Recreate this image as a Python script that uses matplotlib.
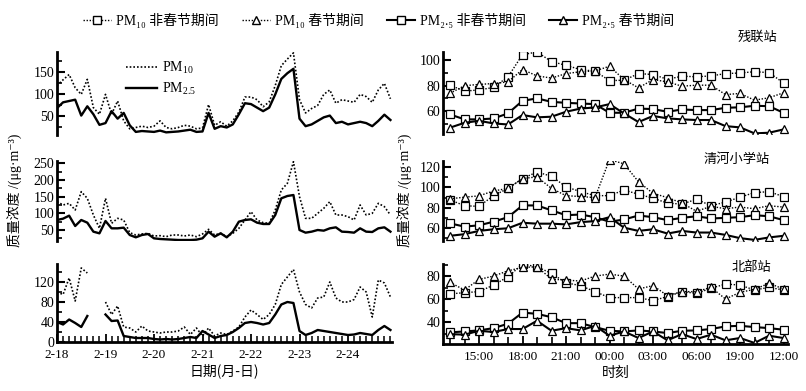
import numpy as np
import matplotlib
matplotlib.use("Agg")
import matplotlib.pyplot as plt
from matplotlib.lines import Line2D
from matplotlib.ticker import MultipleLocator, FixedLocator

FAM = ['Liberation Serif', 'DejaVu Serif', 'Noto Sans CJK SC']
plt.rcParams['font.family'] = FAM
plt.rcParams['mathtext.fontset'] = 'custom'
plt.rcParams['mathtext.rm'] = 'Liberation Serif'
plt.rcParams['mathtext.it'] = 'Liberation Serif:italic'
plt.rcParams['mathtext.default'] = 'rm'

nan = np.nan
# ---------------- left column: 3-hourly series, 2-18 00:00 .. 2-24 21:00 ----------------
hours = np.arange(56) * 3
day_labels = ["2-18", "2-19", "2-20", "2-21", "2-22", "2-23", "2-24"]

top_pm10 = [120, 133, 145, 115, 100, 134, 70, 55, 100, 55, 85, 40, 22, 25, 28, 25,
            28, 40, 25, 22, 25, 30, 28, 22, 24, 77, 30, 38, 28, 40, 60, 94,
            94, 88, 72, 83, 120, 165, 180, 194, 88, 58, 68, 75, 100, 110, 80, 88,
            85, 82, 100, 95, 82, 110, 125, 90]
top_pm25 = [69, 82, 85, 88, 52, 73, 55, 31, 35, 62, 45, 58, 30, 15, 17, 16,
            15, 18, 14, 15, 16, 18, 20, 15, 16, 58, 22, 28, 25, 32, 55, 80,
            78, 70, 62, 70, 100, 135, 148, 158, 45, 28, 32, 40, 48, 52, 35, 38,
            32, 35, 38, 35, 28, 40, 54, 42]

mid_pm10 = [135, 125, 130, 110, 165, 145, 95, 55, 145, 70, 85, 80, 42, 35, 38, 40,
            32, 33, 30, 35, 35, 32, 35, 30, 38, 52, 35, 40, 30, 40, 55, 80,
            105, 80, 72, 70, 110, 170, 190, 255, 150, 85, 85, 100, 115, 135, 95, 95,
            90, 80, 125, 95, 100, 130, 120, 95]
mid_pm25 = [80, 84, 93, 62, 80, 72, 45, 40, 77, 55, 55, 57, 35, 28, 35, 38,
            25, 23, 22, 21, 20, 20, 20, 21, 25, 45, 30, 40, 28, 45, 75, 80,
            82, 72, 68, 68, 95, 145, 152, 155, 50, 42, 45, 50, 48, 55, 58, 45,
            44, 42, 55, 45, 44, 55, 58, 45]

bot_pm10 = [100, 95, 128, 82, 148, 138, nan, nan, 80, 55, 72, 30, 28, 20, 32, 22,
            20, 18, 20, 20, 22, 30, 15, 28, 12, 28, 12, 18, 15, 22, 30, 50,
            64, 55, 45, 55, 75, 115, 130, 145, 100, 75, 68, 88, 90, 120, 88, 80,
            80, 85, 110, 100, 50, 124, 118, 90]
bot_pm25 = [40, 35, 45, 38, 30, 52, nan, nan, 55, 42, 43, 12, 10, 8, 8, 8,
            6, 5, 6, 5, 6, 8, 10, 8, 22, 15, 8, 12, 14, 20, 28, 38,
            40, 38, 35, 38, 55, 75, 80, 78, 22, 14, 18, 24, 22, 20, 18, 16,
            14, 15, 18, 16, 14, 24, 32, 24]

# ---------------- right column: hourly, 13:00 .. 12:00 next day ----------------
hour_idx = np.arange(24)
time_labels = ["15:00", "18:00", "21:00", "00:00", "03:00", "06:00", "19:00", "12:00"]

cl_pm10_non = [80.4, 75.7, 76.7, 78.6, 87, 104.4, 106.5, 99, 96, 92.7, 91.4, 84,
               84.3, 89.5, 88.8, 85, 87.5, 87, 87.7, 89.5, 90, 91, 90.3, 82.2]
cl_pm10_fes = [74, 80, 81, 81.7, 83, 92.7, 87.7, 86, 89.5, 91, 91.6, 95.3,
               84.8, 78.3, 84.8, 83, 79.6, 80.4, 80.4, 73, 73.9, 68.6, 70.5, 74.4]
cl_pm25_non = [57.4, 53.5, 53.5, 54.2, 58.2, 68.1, 70, 67.3, 66.5, 66, 65.5, 58.7,
               58.7, 62, 61.6, 59.5, 61.3, 60.8, 60.8, 62.6, 63, 64.2, 63.9, 58.7]
cl_pm25_fes = [47, 50.8, 52.4, 50.3, 49.5, 56.9, 55.1, 55.6, 59.5, 62, 62.9, 65.5,
               58.2, 51.4, 56.2, 54.3, 53.5, 53, 53, 48.2, 47.2, 42.5, 43, 45.6]

qh_pm10_non = [87.9, 82.1, 81.5, 92, 99.1, 108.8, 115.2, 111, 100.7, 95.9, 92, 92,
               97.5, 93.4, 89.5, 84.7, 83.7, 88.5, 82.1, 85.7, 90.5, 95, 95.9, 91.1]
qh_pm10_fes = [88.9, 90.5, 91.8, 96.6, 99.1, 108.8, 110.4, 99.1, 92, 91.1, 90.1, 127.4,
               123.2, 105.6, 94.3, 90.1, 84.7, 76.7, 81.5, 79.2, 80.8, 79.2, 82.1, 80.8]
qh_pm25_non = [64.8, 61.6, 62.9, 66.4, 70.9, 82.4, 82.4, 77.6, 72.8, 73.5, 70.9, 66.4,
               68.6, 72.5, 70.9, 68, 70.2, 71.8, 69.6, 70.2, 70.9, 72.8, 71.8, 68]
qh_pm25_fes = [52.6, 54.2, 57.4, 59, 60, 65.4, 64.5, 64.5, 63.8, 66, 67, 70.9,
               60.6, 57.4, 59, 54.8, 57.4, 55.8, 55.8, 53.5, 50.3, 48.6, 51, 52.6]

bb_pm10_non = [64.5, 65.6, 66.5, 72.2, 79.4, 90.4, 88.1, 82.3, 74.2, 71.7, 66.5, 61.3,
               61.3, 61.3, 58.7, 62.2, 66.5, 65, 69.4, 73.1, 72.2, 67.9, 70.2, 67.9]
bb_pm10_fes = [74.5, 67.9, 77.1, 80, 84.6, 87.5, 88.1, 77.4, 76.5, 75.7, 80, 81.7,
               80, 68.8, 71.7, 63, 66.5, 66.5, 70.2, 60.1, 65.9, 68.5, 73.7, 68.8]
bb_pm25_non = [31.1, 31.9, 32.8, 34.8, 38.6, 48.3, 47.2, 44.3, 39.1, 39.1, 35.7, 32.5,
               31.9, 32.8, 31.9, 30.5, 32.5, 32.8, 34, 36.3, 36.8, 35.7, 34.8, 33.4]
bb_pm25_fes = [29.6, 29.1, 32.5, 31.4, 34, 34, 41.2, 32.5, 34.8, 32.8, 36.8, 28.2,
               31.9, 26.2, 31.9, 24.2, 29.6, 25.3, 29.1, 24.2, 26.2, 21.9, 28.2, 26.2]

stations = ["残联站", "清河小学站", "北部站"]
legend_labels = ["PM₁₀ 非春节期间", "PM₁₀ 春节期间", "PM₂.₅ 非春节期间", "PM₂.₅ 春节期间"]
ylab = "质量浓度 /(μg·m⁻³)"

# ---------------- figure ----------------
W, H = 806, 391
fig = plt.figure(figsize=(W / 100, H / 100), dpi=100)


def rect(x0, y0, x1, y1):
    return [x0 / W, 1 - y1 / H, (x1 - x0) / W, (y1 - y0) / H]


def style(ax, bottom=False):
    for s in ['top', 'right']:
        ax.spines[s].set_visible(False)
    ax.spines['left'].set_linewidth(2.0)
    if bottom:
        ax.spines['bottom'].set_linewidth(2.0)
    else:
        ax.spines['bottom'].set_visible(False)
        ax.tick_params(axis='x', which='both', bottom=False, labelbottom=False)
    ax.tick_params(axis='y', which='major', direction='in', length=6, width=1.5,
                   labelsize=10, pad=2)
    ax.tick_params(axis='y', which='minor', direction='in', length=3.5, width=1.2)
    ax.patch.set_alpha(0)


LX0, LX1 = 57, 392
RX0, RX1 = 443, 788
rows = [(52, 135), (161, 241), (264, 342)]
left_ylims = [(8, 196), (17, 257), (0, 156)]
left_major = [50, 50, 40]
left_data = [(top_pm10, top_pm25), (mid_pm10, mid_pm25), (bot_pm10, bot_pm25)]
right_ylims = [(42, 106.5), (47.5, 126), (21, 90.5)]
right_data = [(cl_pm10_non, cl_pm10_fes, cl_pm25_non, cl_pm25_fes),
              (qh_pm10_non, qh_pm10_fes, qh_pm25_non, qh_pm25_fes),
              (bb_pm10_non, bb_pm10_fes, bb_pm25_non, bb_pm25_fes)]
right_rows = [(52, 134), (161, 241), (264, 344)]
dot = (0, (1, 1.2))

for k in range(3):
    ax = fig.add_axes(rect(LX0, rows[k][0], LX1, rows[k][1]))
    p10, p25 = left_data[k]
    ax.plot(hours, p10, color='black', linestyle=dot, linewidth=1.2)
    ax.plot(hours, p25, color='black', linestyle='-', linewidth=1.7)
    ax.set_xlim(0, (LX1 - LX0) / (48.5 / 24))
    ax.set_ylim(*left_ylims[k])
    ax.yaxis.set_major_locator(MultipleLocator(left_major[k]))
    ax.yaxis.set_minor_locator(MultipleLocator(left_major[k] / 2))
    style(ax, bottom=(k == 2))
    if k == 2:
        ax.set_yticks([0, 40, 80, 120])
        ax.xaxis.set_major_locator(FixedLocator(np.arange(7) * 24))
        ax.xaxis.set_minor_locator(MultipleLocator(3))
        ax.set_xticklabels(day_labels)
        ax.tick_params(axis='x', which='major', direction='in', length=6, width=1.3,
                       labelsize=9.5, pad=5)
        ax.tick_params(axis='x', which='minor', direction='in', length=4, width=1.1)
        ax.set_xlabel("日期(月-日)", fontsize=10, labelpad=2,
                      family=['Noto Sans CJK SC'])
    elif k == 0:
        ax.set_yticks([50, 100, 150])
    else:
        ax.set_yticks([50, 100, 150, 200, 250])
    if k == 0:
        h1 = Line2D([], [], color='black', linestyle=dot, linewidth=1.2)
        h2 = Line2D([], [], color='black', linestyle='-', linewidth=1.7)
        fig.legend([h1, h2], ["PM$_{10}$", "PM$_{2.5}$"], loc='upper left',
                   bbox_to_anchor=(126 / W, 1 - 60 / H), frameon=False, fontsize=10,
                   handlelength=2.2, handletextpad=0.4, labelspacing=0.35,
                   borderpad=0, borderaxespad=0)

for k in range(3):
    ax = fig.add_axes(rect(RX0, right_rows[k][0], RX1, right_rows[k][1]))
    a, b, c, d = right_data[k]
    mk = dict(markersize=5.5, markerfacecolor='white', markeredgecolor='black',
              markeredgewidth=0.9, color='black')
    ax.plot(hour_idx, a, linestyle=dot, linewidth=1.0, marker='s', **mk)
    ax.plot(hour_idx, b, linestyle=dot, linewidth=1.0, marker='^', **mk)
    ax.plot(hour_idx, c, linestyle='-', linewidth=1.5, marker='s', **mk)
    ax.plot(hour_idx, d, linestyle='-', linewidth=1.5, marker='^', **mk)
    ax.set_xlim(-7 / 14.5, (RX1 - 450) / 14.5)
    ax.set_ylim(*right_ylims[k])
    ax.yaxis.set_major_locator(MultipleLocator(20))
    ax.yaxis.set_minor_locator(MultipleLocator(10))
    style(ax, bottom=(k == 2))
    if k == 2:
        ax.xaxis.set_major_locator(FixedLocator(np.arange(2, 24, 3)))
        ax.xaxis.set_minor_locator(MultipleLocator(1))
        ax.set_xticklabels(time_labels)
        ax.tick_params(axis='x', which='major', direction='in', length=6, width=1.3,
                       labelsize=9.5, pad=5)
        ax.tick_params(axis='x', which='minor', direction='in', length=5, width=1.2)
        ax.set_xlabel("时刻", fontsize=10, labelpad=2, family=['Noto Sans CJK SC'])

# station names
cjk = ['Noto Sans CJK SC']
fig.text(757 / W, 1 - 37 / H, stations[0], ha='center', va='center', fontsize=9.5, family=cjk)
fig.text(737 / W, 1 - 160 / H, stations[1], ha='center', va='center', fontsize=9.5, family=cjk)
fig.text(751 / W, 1 - 267 / H, stations[2], ha='center', va='center', fontsize=9.5, family=cjk)

# y labels
fig.text(15 / W, 1 - 190 / H, ylab, rotation=90, ha='center', va='center', fontsize=10,
         family=FAM)
fig.text(405 / W, 1 - 190 / H, ylab, rotation=90, ha='center', va='center', fontsize=10,
         family=FAM)

# top legend
handles = [
    Line2D([], [], color='black', linestyle=dot, linewidth=1.0, marker='s', markersize=6,
           markerfacecolor='white', markeredgecolor='black'),
    Line2D([], [], color='black', linestyle=dot, linewidth=1.0, marker='^', markersize=6,
           markerfacecolor='white', markeredgecolor='black'),
    Line2D([], [], color='black', linestyle='-', linewidth=1.5, marker='s', markersize=6,
           markerfacecolor='white', markeredgecolor='black'),
    Line2D([], [], color='black', linestyle='-', linewidth=1.5, marker='^', markersize=6,
           markerfacecolor='white', markeredgecolor='black'),
]
fig.legend(handles, legend_labels, loc='center left', bbox_to_anchor=(83 / W, 1 - 20 / H),
           ncol=4, frameon=False, prop={'family': FAM, 'size': 10}, handlelength=2.0,
           handletextpad=0.35, columnspacing=1.7, borderpad=0, borderaxespad=0)

fig.savefig("out.png", dpi=100)
